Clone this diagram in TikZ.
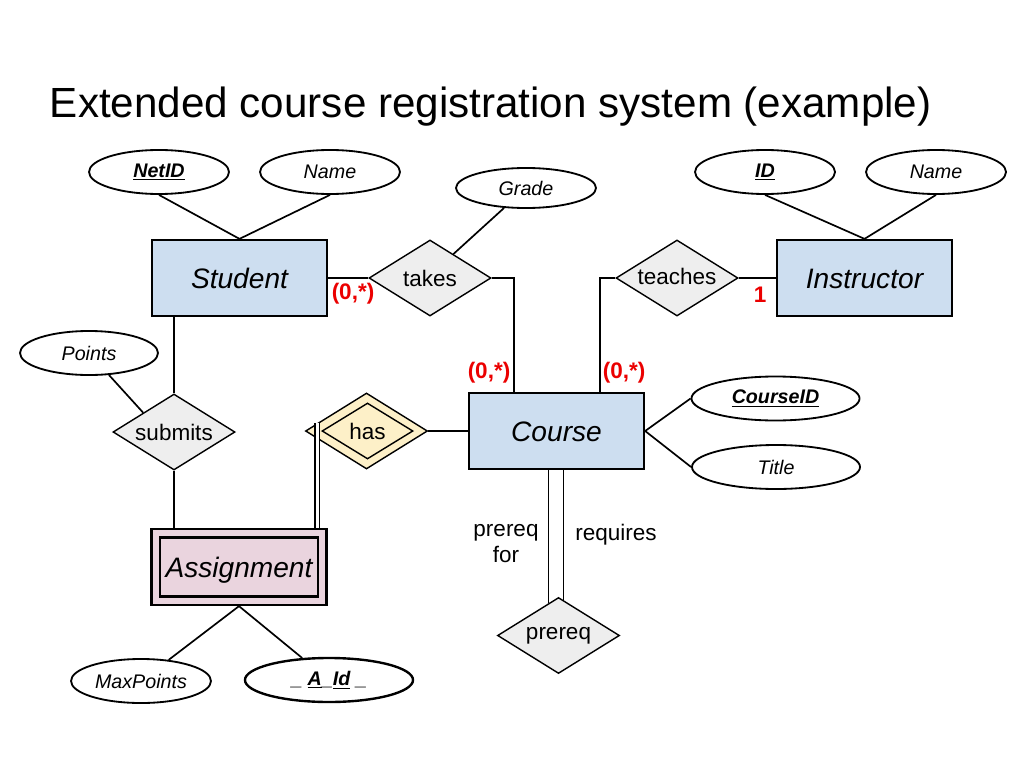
\documentclass[tikz,border=0pt]{standalone}
\usepackage{fontspec}
\setmainfont{Liberation Sans}
\usepackage{tikz}
\usetikzlibrary{shapes.geometric,calc}

\definecolor{entblue}{RGB}{205,222,240}
\definecolor{relgray}{RGB}{238,238,238}
\definecolor{hasyellow}{RGB}{253,240,200}
\definecolor{weakpink}{RGB}{234,212,222}
\definecolor{cardred}{RGB}{235,0,0}

\newcommand{\keyattr}[1]{\textbf{\underline{#1}}}

\begin{document}
\begin{tikzpicture}[x=0.025cm, y=-0.025cm,
  entity/.style={draw, line width=1.6pt, fill=entblue, minimum width=4.375cm, minimum height=1.9cm, inner sep=0pt, text height=14.3pt, text depth=0pt, font=\fontsize{20}{24}\selectfont\itshape},
  weak/.style={entity, fill=weakpink},
  relation/.style={draw, diamond, aspect=1.6, line width=1pt, fill=relgray, minimum width=3.05cm, minimum height=1.9cm, inner sep=0pt, font=\fontsize{16}{19}\selectfont},
  attr/.style={draw, ellipse, line width=1.3pt, minimum width=3.5cm, minimum height=1.1cm, inner sep=0pt, font=\fontsize{14}{17}\selectfont\itshape},
  card/.style={text=cardred, font=\fontsize{16}{19}\selectfont\bfseries},
  role/.style={font=\fontsize{16}{18.5}\selectfont, align=center},
  conn/.style={line width=1.2pt}]
	\useasboundingbox (0,0) rectangle (1024,768);
	\node[anchor=base west, font=\fontsize{30}{36}\selectfont] (title) at (45,118) {Extended course registration system (example)};

	% entities
	\node[entity] (student) at (239.5,278) {Student};
	\node[entity] (instructor) at (864.5,278) {Instructor};
	\node[entity] (course) at (556.5,431) {Course};
	\node[weak] (asg) at (239,567) {};
	\node[weak, line width=2pt, minimum width=3.95cm, minimum height=1.475cm] (asgin) at (asg) {Assignment};

	% relationships
	\node[relation] (takes) at (430,278) {takes};
	\node[relation] (teaches) at (677,278) {\raisebox{3pt}{teaches}};
	\node[relation] (submits) at (174,432) {submits};
	\node[relation, fill=hasyellow] (has) at (366.5,431) {};
	\node[relation, fill=hasyellow, minimum width=2.275cm, minimum height=1.4cm] (hasin) at (367.5,431) {has};
	\node[relation] (prereq) at (558.5,635.5) {prereq};

	% attributes
	\node[attr] (netid) at (159,172) {\keyattr{NetID}};
	\node[attr] (sname) at (330,172) {Name};
	\node[attr, minimum height=1cm] (grade) at (526,188) {Grade};
	\node[attr] (id) at (765,172) {\keyattr{ID}};
	\node[attr] (iname) at (936,172) {Name};
	\node[attr, minimum width=3.45cm] (points) at (89,353) {Points};
	\node[attr, minimum width=4.2cm] (cid) at (775.5,398.5) {\keyattr{CourseID}};
	\node[attr, minimum width=4.2cm] (ctitle) at (776,467) {Title};
	\node[attr] (maxpts) at (141,681) {MaxPoints};
	\node[attr, minimum width=4.2cm, line width=1.7pt] (aid) at (329,680) {\bfseries \_ \underline{A}\_\underline{Id} \_};

	% cardinalities and roles
	\node[card] (c1) at (353,294) {(0,*)};
	\node[card] (c2) at (489,373) {(0,*)};
	\node[card] (c3) at (624,373) {(0,*)};
	\node[card] (c4) at (760,295) {1};
	\node[role] (rfor) at (506,544) {prereq\\for};
	\node[role] (rreq) at (616,535) {requires};

	% connectors
	\draw[conn] (netid.south) -- (student.north);
	\draw[conn] (sname.south) -- (student.north);
	\draw[conn] (id.south) -- (instructor.north);
	\draw[conn] (iname.south) -- (instructor.north);
	\draw[conn] (grade) -- ($(takes.north)!0.38!(takes.east)$);
	\draw[conn] (student.east) -- (takes.west);
	\draw[conn] (takes.east) -| ($(course.north)+(-42.5,0)$);
	\draw[conn] (teaches.west) -| ($(course.north)+(43.5,0)$);
	\draw[conn] (teaches.east) -- (instructor.west);
	\draw[conn] (points) -- ($(submits.west)!0.5!(submits.north)$);
	\draw[conn] (submits.north) -- (submits.north |- student.south);
	\draw[conn] (submits.south) -- (submits.south |- asg.north);
	\draw[conn] (has.east) -- (course.west);
	\coordinate (hasleg) at ($(has.west)!0.2!(has.north)$);
	\draw[conn, double, double distance=2.3pt] (hasleg) -- (hasleg |- asg.north);
	\draw[conn] ($(course.south)+(-8,0)$) -- ($(prereq.north)+(-10,6)$);
	\draw[conn] ($(course.south)+(7,0)$) -- ($(prereq.north)+(5,3)$);
	\draw[conn] (course.east) -- (cid.west);
	\draw[conn] (course.east) -- (ctitle.west);
	\draw[conn] (asg.south) -- (maxpts);
	\draw[conn] (asg.south) -- (aid);
\end{tikzpicture}
\end{document}
